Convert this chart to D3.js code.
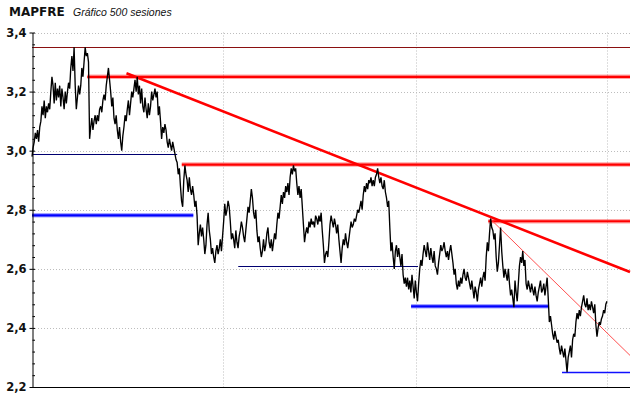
<!DOCTYPE html>
<html><head><meta charset="utf-8">
<script src="https://cdn.jsdelivr.net/npm/d3@7"></script>
<style>body{margin:0;background:#fff;overflow:hidden}</style>
</head><body><svg id="c" width="640" height="398"></svg>
<script>
// ---- data ----
const titleText = "MAPFRE";
const subtitleText = "Gráfico 500 sesiones";
const sessionCount = 500;
const prices = [
2.98,3.01,
3.03,3.06,3.04, 3.07,3.03,3.08, 3.10,3.15,3.12, 3.17,3.11,3.15, 3.13,3.16,3.14,
3.20,3.25,3.22, 3.16,3.23,3.17, 3.21,3.18,3.22, 3.15,3.21,3.18, 3.14,3.20,3.16,
3.20,3.23,3.21, 3.28,3.32,3.27, 3.35,3.22,3.14, 3.18,3.22,3.19, 3.22,3.28,3.25,
3.30,3.35,3.32, 3.33,3.30,3.04, 3.08,3.11,3.07, 3.10,3.12,3.09, 3.12,3.10,3.14,
3.15,3.13,3.17, 3.19,3.17,3.22, 3.25,3.28,3.24, 3.20,3.15,3.18, 3.11,3.09,3.12,
3.07,3.04,3.08, 3.03,3.00,3.05, 3.08,3.12,3.10,
3.14,3.17,3.12, 3.16,3.20,3.18, 3.21,3.24,3.20, 3.25,3.19,3.22, 3.16,3.21,3.15,
3.13,3.18,3.14, 3.11,3.16,3.12, 3.15,3.20,3.17, 3.19,3.21,3.18, 3.20,3.12,3.15,
3.10,3.04,3.08, 3.06,3.09,3.07, 3.03,3.01,3.04, 3.02,3.00,3.03, 3.01,2.99,2.97,
2.96,2.92,2.94, 2.88,2.83,2.81, 2.90,2.95,2.92, 2.90,2.86,2.91, 2.87,2.85,2.88,
2.85,2.81,2.83, 2.78,2.68,2.72, 2.75,2.71,2.74, 2.70,2.65,2.68, 2.75,2.79,2.73,
2.70,2.65,2.67, 2.64,2.62,2.66, 2.68,2.65,2.67, 2.70,2.66,2.71, 2.76,2.82,2.78,
2.80,2.83,2.81, 2.76,2.70,2.72, 2.70,2.67,2.73, 2.69,2.67,2.71, 2.73,2.76,2.74,
2.71,2.69,2.73, 2.77,2.81,2.79, 2.83,2.87,2.84, 2.79,2.77,2.80, 2.73,2.69,2.71,
2.67,2.64,2.66, 2.70,2.66,2.68, 2.72,2.74,2.69, 2.67,2.70,2.66, 2.69,2.72,2.70,
2.75,2.79,2.77, 2.81,2.85,2.82, 2.86,2.84,2.88, 2.86,2.89,2.85, 2.91,2.94,2.92,
2.95,2.93,2.94, 2.89,2.85,2.88, 2.84,2.87,2.81, 2.75,2.69,2.72, 2.74,2.72,2.76,
2.74,2.77,2.75, 2.76,2.74,2.78, 2.77,2.75,2.78, 2.76,2.79,2.73, 2.68,2.62,2.65,
2.66,2.64,2.69, 2.75,2.78,2.76, 2.74,2.77,2.75, 2.72,2.75,2.70, 2.66,2.62,2.67,
2.70,2.68,2.72, 2.69,2.67,2.70, 2.73,2.76,2.74, 2.75,2.77,2.76, 2.78,2.80,2.79,
2.81,2.83,2.80, 2.85,2.88,2.86, 2.89,2.87,2.90, 2.89,2.91,2.88, 2.90,2.88,2.91,
2.92,2.94,2.91, 2.89,2.91,2.88, 2.87,2.90,2.86, 2.84,2.81,2.83, 2.74,2.66,2.69,
2.64,2.60,2.66, 2.68,2.64,2.67, 2.64,2.61,2.65, 2.58,2.55,2.57, 2.54,2.57,2.53,
2.56,2.52,2.58, 2.54,2.50,2.56, 2.52,2.49,2.55, 2.60,2.63,2.61, 2.65,2.68,2.66,
2.64,2.69,2.66, 2.63,2.67,2.64, 2.62,2.66,2.61, 2.60,2.58,2.62, 2.65,2.68,2.66,
2.67,2.69,2.66, 2.64,2.66,2.63, 2.66,2.68,2.65, 2.62,2.58,2.60, 2.55,2.53,2.56,
2.54,2.57,2.55, 2.58,2.60,2.57, 2.56,2.59,2.57, 2.55,2.53,2.56, 2.53,2.50,2.54,
2.52,2.49,2.53, 2.55,2.57,2.54, 2.57,2.59,2.56, 2.64,2.69,2.66, 2.72,2.77,2.74,
2.73,2.70,2.72, 2.64,2.59,2.62, 2.68,2.74,2.66, 2.61,2.57,2.60, 2.58,2.56,2.60,
2.55,2.51,2.53, 2.50,2.47,2.56, 2.52,2.49,2.55, 2.61,2.64,2.62, 2.66,2.61,2.63,
2.55,2.53,2.56, 2.54,2.52,2.55, 2.53,2.51,2.54, 2.51,2.49,2.52, 2.54,2.56,2.52,
2.53,2.55,2.51, 2.54,2.57,2.50, 2.42,2.44,2.41, 2.38,2.36,2.39, 2.37,2.35,2.36,
2.33,2.31,2.34, 2.32,2.30,2.33, 2.29,2.25,2.30, 2.32,2.34,2.30, 2.36,2.38,2.37,
2.42,2.45,2.43, 2.46,2.44,2.47, 2.49,2.51,2.48, 2.47,2.50,2.46, 2.48,2.46,2.49,
2.47,2.45,2.48, 2.41,2.37,2.40, 2.42,2.41,2.43, 2.44,2.46,2.45, 2.48,2.49
];
const yTickValues = [2.2, 2.4, 2.6, 2.8, 3.0, 3.2, 3.4];
const yTickLabels = ["2,2", "2,4", "2,6", "2,8", "3,0", "3,2", "3,4"];
const yearGridSessions = [166, 333, 499];

// horizontal support / resistance levels (sessions from..to)
const levelPrice = [3.35, 3.25, 2.99, 2.953, 2.781, 2.61, 2.761, 2.473, 2.249];
const levelFrom  = [0, 48, 0, 130, 0, 179, 396, 329, 460];
const levelTo    = [519, 519, 126, 519, 140, 335, 519, 448, 519];
const levelType  = ["resMinor", "resMajor", "supOld", "resMajor", "supMajor", "supOld", "resMajor", "supMajor", "supMinor"];

// trend lines
const trendFrom = [82, 397.5];
const trendFromPrice = [3.262, 2.770];
const trendTo = [519, 519];
const trendToPrice = [2.589, 2.307];
const trendType = ["major", "minor"];

// ---- drawing ----
const svg = d3.select("#c");
const x = d3.scaleLinear().domain([0, 519]).range([32, 630]);
const y = d3.scaleLinear().domain([2.2, 3.4]).range([387, 32.5]);

const levelStyle = {
  resMinor: {c: "#8a1010", w: 1},
  resMajor: {c: "#ff0000", w: 3},
  supOld:   {c: "#000070", w: 1},
  supMinor: {c: "#1010ff", w: 1.6},
  supMajor: {c: "#0000ff", w: 3}
};

// grid
svg.append("g").selectAll("line").data(yTickValues.filter(v => v > 2.2)).join("line")
  .attr("x1", x(0)).attr("x2", x(519))
  .attr("y1", d => Math.round(y(d)) + 0.5).attr("y2", d => Math.round(y(d)) + 0.5)
  .attr("stroke", "#bdbdbd").attr("stroke-dasharray", "1,2");
svg.append("g").selectAll("line").data(yearGridSessions).join("line")
  .attr("x1", d => Math.round(x(d)) + 0.5).attr("x2", d => Math.round(x(d)) + 0.5)
  .attr("y1", y(3.4)).attr("y2", y(2.2))
  .attr("stroke", "#bdbdbd").attr("stroke-dasharray", "1,2");

// levels
const lv = d3.range(levelPrice.length);
svg.append("g").selectAll("line").data(lv.filter(i => levelStyle[levelType[i]].w > 2)).join("line")
  .attr("x1", i => x(levelFrom[i])).attr("x2", i => x(levelTo[i]))
  .attr("y1", i => y(levelPrice[i])).attr("y2", i => y(levelPrice[i]))
  .attr("stroke", i => levelStyle[levelType[i]].c).attr("stroke-opacity", 0.35)
  .attr("stroke-width", 4.5);
svg.append("g").selectAll("line").data(lv).join("line")
  .attr("x1", i => x(levelFrom[i])).attr("x2", i => x(levelTo[i]))
  .attr("y1", i => { const v = y(levelPrice[i]); return levelStyle[levelType[i]].w === 1 ? Math.round(v) + 0.5 : v; })
  .attr("y2", i => { const v = y(levelPrice[i]); return levelStyle[levelType[i]].w === 1 ? Math.round(v) + 0.5 : v; })
  .attr("stroke", i => levelStyle[levelType[i]].c)
  .attr("stroke-width", i => levelStyle[levelType[i]].w > 2 ? 2.2 : levelStyle[levelType[i]].w);

// trend lines
const tr = d3.range(trendFrom.length);
svg.append("g").selectAll("line").data(tr).join("line")
  .attr("x1", i => x(trendFrom[i])).attr("x2", i => x(trendTo[i]))
  .attr("y1", i => y(trendFromPrice[i])).attr("y2", i => y(trendToPrice[i]))
  .attr("stroke", i => trendType[i] === "major" ? "#ff0000" : "#ff5050")
  .attr("stroke-width", i => trendType[i] === "major" ? 2.6 : 1);

// price series
const step = (sessionCount - 1) / (prices.length - 1);
const line = d3.line().x((d, i) => x(i * step)).y(d => y(d));
svg.append("path").datum(prices).attr("d", line)
  .attr("fill", "none").attr("stroke", "#000").attr("stroke-width", 1.35)
  .attr("stroke-linejoin", "miter").attr("stroke-miterlimit", 2);

// axes
const gL = svg.append("g").attr("transform", "translate(32.5,0)")
  .call(d3.axisLeft(y).tickValues(yTickValues).tickFormat((d, i) => yTickLabels[i])
    .tickSizeInner(3).tickSizeOuter(0).tickPadding(3));
gL.select(".domain").attr("stroke", "#000");
gL.selectAll("text").attr("font-family", "DejaVu Sans").attr("font-weight", "bold")
  .attr("font-size", 11.5).attr("fill", "#111");
const gM = svg.append("g").attr("transform", "translate(32.5,0)")
  .call(d3.axisRight(y).tickValues(d3.range(0, 31).map(k => 2.2 + k * 0.04))
    .tickSizeInner(2.5).tickSizeOuter(0).tickFormat(""));
gM.select(".domain").remove();

svg.append("line").attr("x1", 32).attr("x2", 630)
  .attr("y1", Math.round(y(2.2)) + 0.5).attr("y2", Math.round(y(2.2)) + 0.5)
  .attr("stroke", "#000");

// titles
svg.append("text").attr("x", 9).attr("y", 16).text(titleText)
  .attr("font-family", "DejaVu Sans").attr("font-weight", "bold").attr("font-size", 12).attr("fill", "#111");
svg.append("text").attr("x", 73).attr("y", 15.5).text(subtitleText)
  .attr("font-family", "Liberation Sans").attr("font-style", "italic").attr("font-size", 10.5).attr("fill", "#111");
</script>
</body></html>
